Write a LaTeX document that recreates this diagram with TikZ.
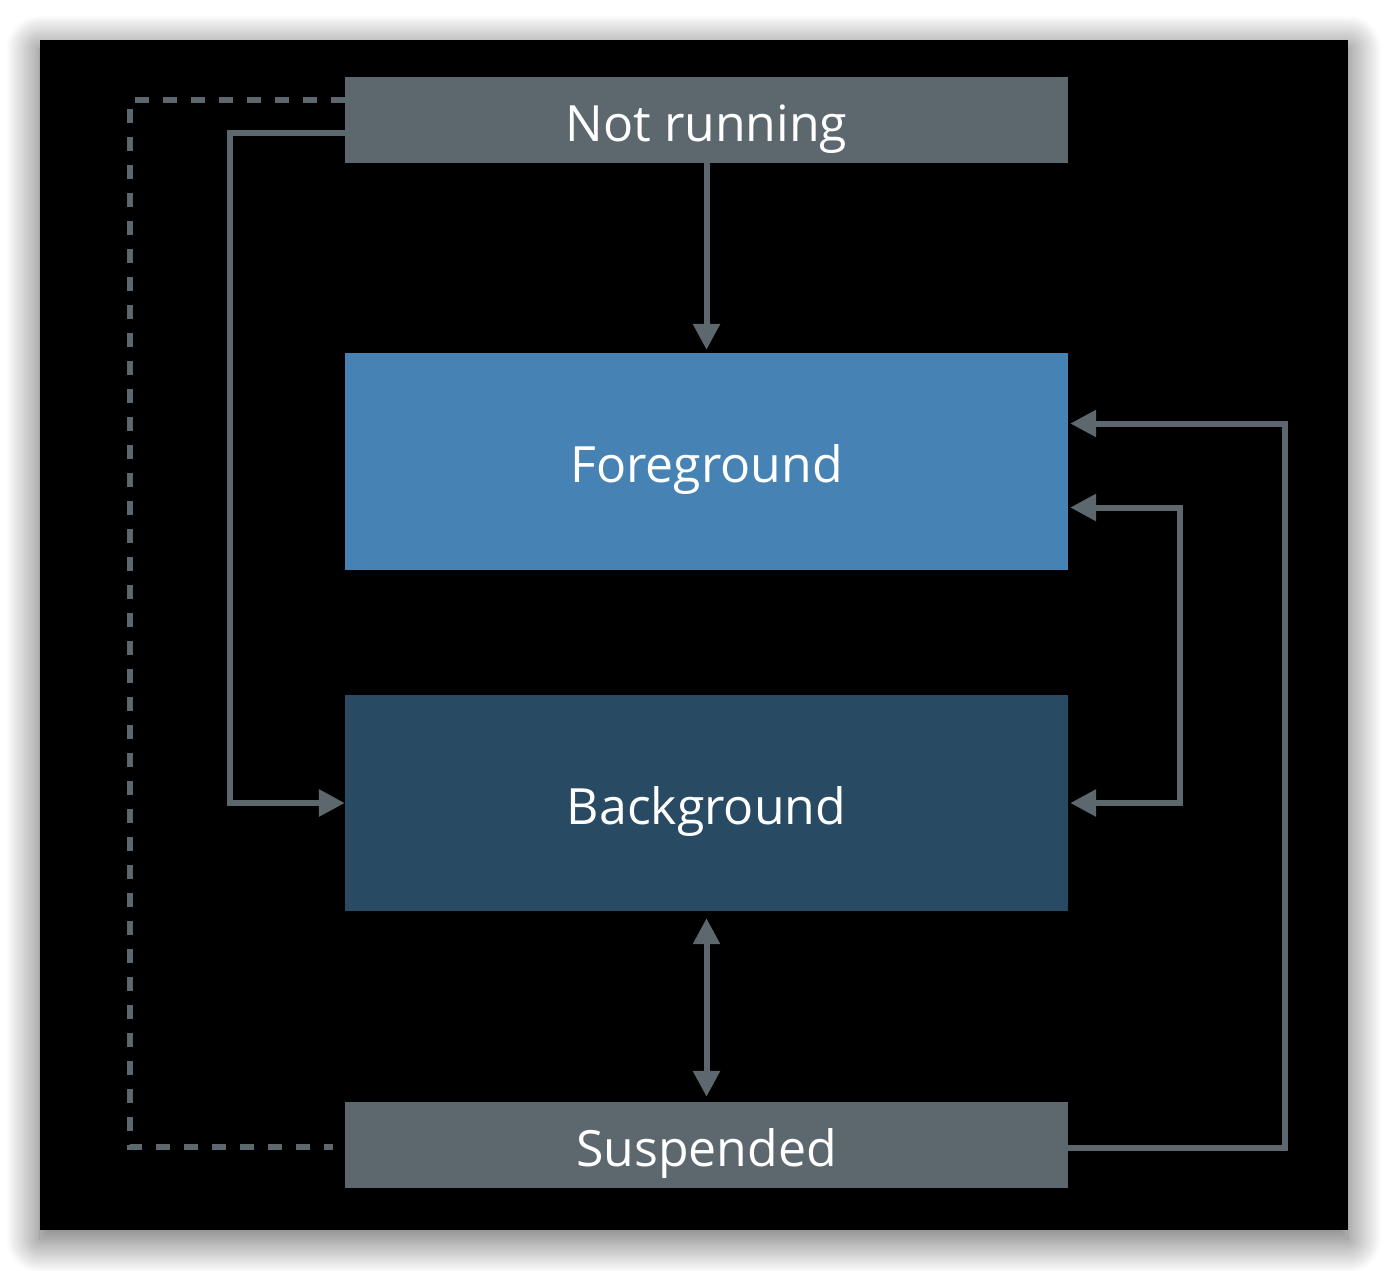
\documentclass[tikz,border=0pt]{standalone}
\usepackage{fontspec}
\setmainfont{Open Sans}
\usetikzlibrary{arrows.meta,shadows.blur}

\definecolor{stategray}{HTML}{5D676E}
\definecolor{fgblue}{HTML}{4682B4}
\definecolor{bgblue}{HTML}{284A63}

\begin{document}
\begin{tikzpicture}[x=1pt,y=-1pt,
  state/.style={rectangle,minimum width=723pt,inner sep=0pt,text=white,
    text height=42pt,text depth=0pt,font=\fontsize{50}{54}\selectfont},
  link/.style={line width=6pt,draw=stategray},
  tip/.style={-{Triangle[width=26pt,length=26pt]}}]
\useasboundingbox (0,0) rectangle (1388,1270);
\fill[black,blur shadow={shadow xshift=0pt,shadow yshift=-9pt,shadow blur radius=34pt,
  shadow blur steps=40,shadow opacity=65}]
  (40,40) rectangle (1348,1230);

\node [state,fill=stategray,minimum height=86pt] (nr) at (706.5,120) {Not running};
\node [state,fill=fgblue,minimum height=217pt] (fg) at (706.5,461.5) {Foreground};
\node [state,fill=bgblue,minimum height=216pt] (bg) at (706.5,803) {Background};
\node [state,fill=stategray,minimum height=86pt] (su) at (706.5,1145) {Suspended};

\draw [link,tip,shorten >=3pt] (nr) -- (fg);
\draw [link,tip] ([yshift=-13pt]nr.west) -- ++(-115,0) |- (bg.west);
\draw [link,dashed,dash pattern=on 14pt off 14pt]
  ([yshift=20pt]nr.west) -- ++(-215,0) |- ([xshift=-12pt,yshift=-2pt]su.west);
\draw [link,{Triangle[width=26pt,length=26pt]}-{Triangle[width=26pt,length=26pt]},
  shorten <=7pt,shorten >=5pt] (bg) -- (su);
\draw [link,tip,shorten >=2pt] ([yshift=-3pt]su.east) -- ++(217,0) |- ([yshift=38pt]fg.east);
\draw [link,{Triangle[width=26pt,length=26pt]}-{Triangle[width=26pt,length=26pt]},
  shorten <=2pt,shorten >=2pt] ([yshift=-46pt]fg.east) -- ++(112,0) |- (bg.east);
\end{tikzpicture}
\end{document}
